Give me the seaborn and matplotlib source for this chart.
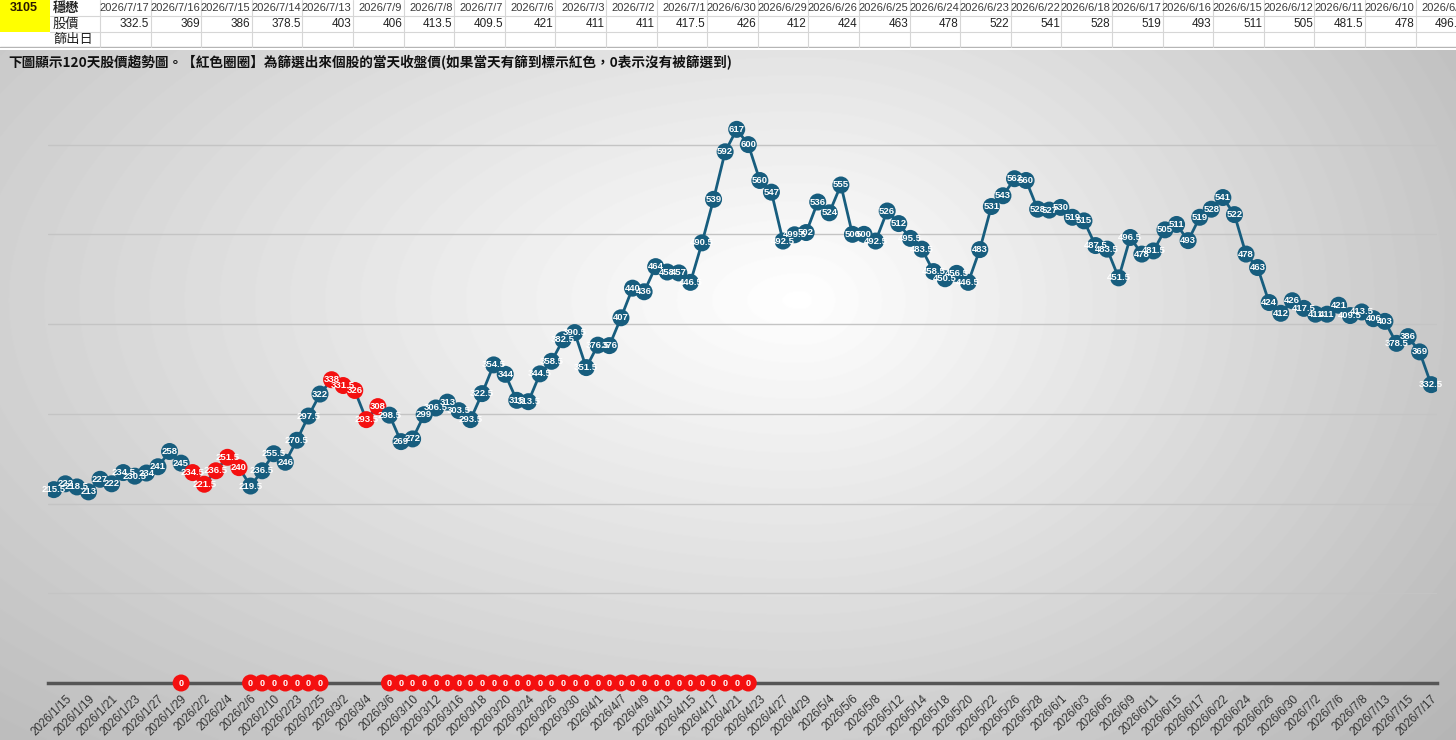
import numpy as np
import pandas as pd
import seaborn as sns
import matplotlib.pyplot as plt
from matplotlib.patches import Rectangle

# 120 trading days of closing prices, oldest first
prices = [215.5, 222, 218.5, 213, 227, 222, 234.5, 230.5, 234, 241,
          258, 245, 234.5, 221.5, 236.5, 251.5, 240, 219.5, 236.5, 255.5,
          246, 270.5, 297.5, 322, 338, 331.5, 326, 293.5, 308, 298.5,
          269, 272, 299, 306.5, 313, 303.5, 293.5, 322.5, 354.5, 344,
          315, 313.5, 344.5, 358.5, 382.5, 390.5, 351.5, 376.5, 376, 407,
          440, 436, 464, 458, 457, 446.5, 490.5, 539, 592, 617,
          600, 560, 547, 492.5, 499.5, 502, 536, 524, 555, 500,
          500, 492.5, 526, 512, 495.5, 483.5, 458.5, 450.5, 456.5, 446.5,
          483, 531, 543, 562, 560, 528, 527, 530, 519, 515,
          487.5, 483.5, 451.5, 496.5, 478, 481.5, 505, 511, 493, 519,
          528, 541, 522, 478, 463, 424, 412, 426, 417.5, 411,
          411, 421, 409.5, 413.5, 406, 403, 378.5, 386, 369, 332.5]

# days drawn red on the price line, and days with a red "0" on the axis
red_days = list(range(12, 17)) + list(range(24, 29))
zero_days = [11] + list(range(17, 24)) + list(range(29, 61))

tick_dates = ['2026/1/15', '2026/1/19', '2026/1/21', '2026/1/23', '2026/1/27', '2026/1/29',
              '2026/2/2', '2026/2/4', '2026/2/6', '2026/2/10', '2026/2/23', '2026/2/25',
              '2026/3/2', '2026/3/4', '2026/3/6', '2026/3/10', '2026/3/12', '2026/3/16',
              '2026/3/18', '2026/3/20', '2026/3/24', '2026/3/26', '2026/3/30',
              '2026/4/1', '2026/4/7', '2026/4/9', '2026/4/13', '2026/4/15', '2026/4/17',
              '2026/4/21', '2026/4/23', '2026/4/27', '2026/4/29',
              '2026/5/4', '2026/5/6', '2026/5/8', '2026/5/12', '2026/5/14', '2026/5/18',
              '2026/5/20', '2026/5/22', '2026/5/26', '2026/5/28',
              '2026/6/1', '2026/6/3', '2026/6/5', '2026/6/9', '2026/6/11', '2026/6/15',
              '2026/6/17', '2026/6/22', '2026/6/24', '2026/6/26', '2026/6/30',
              '2026/7/2', '2026/7/6', '2026/7/8', '2026/7/13', '2026/7/15', '2026/7/17']

table_dates = ['2026/7/17', '2026/7/16', '2026/7/15', '2026/7/14', '2026/7/13', '2026/7/9',
               '2026/7/8', '2026/7/7', '2026/7/6', '2026/7/3', '2026/7/2', '2026/7/1',
               '2026/6/30', '2026/6/29', '2026/6/26', '2026/6/25', '2026/6/24', '2026/6/23',
               '2026/6/22', '2026/6/18', '2026/6/17', '2026/6/16', '2026/6/15', '2026/6/12',
               '2026/6/11', '2026/6/10', '2026/6/9']
table_prices = [332.5, 369, 386, 378.5, 403, 406, 413.5, 409.5, 421, 411, 411, 417.5,
                426, 412, 424, 463, 478, 522, 541, 528, 519, 493, 511, 505, 481.5, 478, 496.5]

title = '下圖顯示120天股價趨勢圖。【紅色圈圈】為篩選出來個股的當天收盤價(如果當天有篩到標示紅色，0表示沒有被篩選到)'

BLUE = '#175d7e'
RED = '#f41010'
W, H = 1456, 740

sns.set_theme(style='white')
plt.rcParams['font.family'] = ['Liberation Sans', 'Noto Sans CJK TC', 'DejaVu Sans']

fig = plt.figure(figsize=(W / 100, H / 100), dpi=100)
fig.patch.set_facecolor('white')


def px_axes(x0, y0, x1, y1):
    return fig.add_axes([x0 / W, 1 - y1 / H, (x1 - x0) / W, (y1 - y0) / H])


# gray radial background behind the chart (wider falloff on the left side)
bg = px_axes(0, 50, W, H)
yy, xx = np.mgrid[50:H, 0:W]
sx = np.where(xx < 800, 900.0, 600.0)
r = np.sqrt(((xx - 800) / sx) ** 2 + ((yy - 300) / 460.0) ** 2)
shade = np.clip(1 - 0.2 * r, 0.68, 1)
bg.imshow(shade, cmap='gray', vmin=0, vmax=1, aspect='auto', extent=(0, W, H, 50))
bg.set_xlim(0, W)
bg.set_ylim(H, 50)
bg.axis('off')

# sheet table on top
tb = px_axes(0, 0, W, 48)
tb.set_xlim(0, W)
tb.set_ylim(48, 0)
tb.axis('off')
tb.add_patch(Rectangle((0, 0), 50, 32, color='#ffff00', lw=0))
col_w = 50.6
x_first = 100
for y in [16, 32]:
    tb.plot([50, W], [y, y], color='#d6d6d6', lw=0.8)
tb.plot([0, W], [47, 47], color='#b5b5b5', lw=1)
for k in range(len(table_dates) + 1):
    x = x_first + k * col_w
    tb.plot([x, x], [0, 47], color='#d6d6d6', lw=0.8)

cjk = ['Noto Sans CJK TC', 'DejaVu Sans']
tb.text(24, 8, '3105', ha='center', va='center', fontsize=9, fontweight='bold', color='#2a1a00')
tb.text(53, 8, '穩懋', ha='left', va='center', fontsize=9.5, fontweight='bold', family=cjk)
tb.text(53, 24, '股價', ha='left', va='center', fontsize=9.5, family=cjk, color='#222')
tb.text(53, 40, '篩出日', ha='left', va='center', fontsize=9.5, family=cjk, color='#222')
for k, (d, p) in enumerate(zip(table_dates, table_prices)):
    xr = x_first + (k + 1) * col_w - 1.5
    tb.text(xr, 8, d, ha='right', va='center', fontsize=8, color='#3a3a3a')
    tb.text(xr, 24, f'{p:g}', ha='right', va='center', fontsize=8.5, color='#222')

fig.text(8 / W, 1 - 63 / H, title, ha='left', va='center', fontsize=9.8,
         fontweight='bold', family=cjk, color='#111')

# main chart
ax = px_axes(48, 80, 1437, 683)
ax.set_facecolor('none')
df = pd.DataFrame({'day': np.arange(len(prices)), 'price': prices})
df['picked'] = df['day'].isin(red_days)
zdf = pd.DataFrame({'day': zero_days, 'val': [0] * len(zero_days)})

sns.lineplot(data=df, x='day', y='price', color=BLUE, lw=2, ax=ax, zorder=2)
sns.scatterplot(data=df, x='day', y='price', hue='picked', palette={False: BLUE, True: RED},
                s=150, edgecolor='none', legend=False, ax=ax, zorder=3)
sns.scatterplot(data=zdf, x='day', y='val', color=RED, s=150, edgecolor='none',
                ax=ax, zorder=5, clip_on=False)

for d, p in zip(df['day'], df['price']):
    ax.text(d, p, f'{p:g}', ha='center', va='center', fontsize=6.8, fontweight='bold',
            color='white', zorder=4)
for d in zdf['day']:
    ax.text(d, 0, '0', ha='center', va='center', fontsize=6.5, fontweight='bold',
            color='white', zorder=6, clip_on=False)

ax.set_xlim(-0.5, len(prices) - 0.5)
ax.set_ylim(0, 672)
ax.set_yticks([100, 200, 300, 400, 500, 600])
ax.grid(axis='y', color='#c4c4c4', lw=1)
ax.tick_params(axis='y', left=False, labelleft=False)
ax.set_xticks(np.arange(1, len(prices), 2))
ax.set_xticklabels(tick_dates, rotation=45, ha='right', rotation_mode='anchor',
                   fontsize=8.4, color='#333')
ax.tick_params(axis='x', length=0, pad=7)
ax.set_xlabel('')
ax.set_ylabel('')
for s in ['top', 'left', 'right']:
    ax.spines[s].set_visible(False)
ax.spines['bottom'].set_color('#555555')
ax.spines['bottom'].set_linewidth(2.5)
ax.spines['bottom'].set_zorder(1)

fig.savefig('out.png', dpi=100)
